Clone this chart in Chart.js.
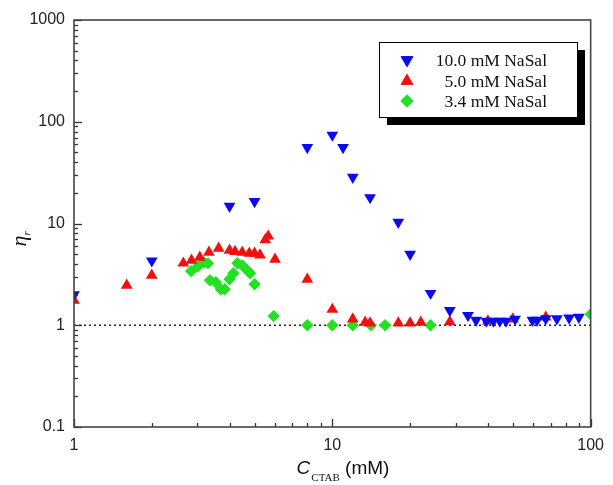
<!DOCTYPE html>
<html>
<head>
<meta charset="utf-8">
<script src="https://cdn.jsdelivr.net/npm/chart.js@4.4.1/dist/chart.umd.min.js"></script>
<style>
  html, body { margin: 0; padding: 0; background: #fff; }
  #wrap { width: 613px; height: 485px; }
</style>
</head>
<body>
<div id="wrap"><canvas id="chart" width="613" height="485"></canvas></div>
<script>
// series (C_CTAB in mM, eta_r)
const labels = ["10.0 mM NaSal", "5.0 mM NaSal", "3.4 mM NaSal"];

const blueX = [1, 2, 4, 5, 8, 10, 11, 12, 14, 18, 20, 24, 28.5, 33.5, 36, 39.5, 42, 44.5, 47, 51, 59.5, 62, 67, 74, 82.5, 90];
const blueY = [2.0, 4.3, 14.8, 16.5, 56, 74, 56, 28.5, 18, 10.3, 5.0, 2.06, 1.40, 1.25, 1.12, 1.1, 1.1, 1.1, 1.1, 1.15, 1.12, 1.12, 1.16, 1.16, 1.18, 1.2];

const redX = [1, 1.6, 2, 2.65, 2.85, 3.07, 3.33, 3.63, 4.0, 4.2, 4.48, 4.77, 5.0, 5.25, 5.5, 5.65, 6.0, 8.0, 10, 12, 13.4, 14, 18, 20, 22, 28.5, 40, 50, 67];
const redY = [1.76, 2.47, 3.1, 4.07, 4.35, 4.66, 5.2, 5.7, 5.45, 5.3, 5.2, 5.1, 5.1, 4.9, 6.9, 7.5, 4.45, 2.83, 1.43, 1.15, 1.07, 1.05, 1.05, 1.05, 1.07, 1.08, 1.1, 1.15, 1.2];

const greenX = [2.84, 3.02, 3.18, 3.3, 3.36, 3.54, 3.7, 3.83, 4.0, 4.14, 4.29, 4.48, 4.68, 4.8, 5.0, 5.93, 8, 10, 12, 14.1, 16, 24, 100];
const greenY = [3.4, 3.8, 4.16, 4.06, 2.77, 2.65, 2.26, 2.26, 2.83, 3.24, 4.07, 3.88, 3.47, 3.24, 2.53, 1.23, 1.0, 1.0, 1.0, 1.0, 1.0, 1.0, 1.28];

const refLineX = [1, 100];
const refLineY = [1, 1];

const xMajorTicks = [1, 10, 100];
const yMajorTicks = [0.1, 1, 10, 100, 1000];

function pts(xs, ys) {
    return xs.map((x, i) => ({ x: x, y: ys[i] }));
}

// log ticks: majors plus 2..9 minors
function logTicks(majors) {
    const out = [];
    for (let i = 0; i < majors.length; i++) {
        out.push({ value: majors[i], major: true });
        if (i < majors.length - 1) {
            for (let m = 2; m <= 9; m++) out.push({ value: majors[i] * m, major: false });
        }
    }
    return out;
}

const tickFont = { family: "'Liberation Sans', Arial, sans-serif", size: 16 };

// inward tick marks + frame
const framePlugin = {
    id: "frame",
    afterDatasetsDraw(chart) {
        const ctx = chart.ctx;
        const a = chart.chartArea;
        ctx.save();
        ctx.strokeStyle = "#333";
        ctx.lineWidth = 1.3;
        chart.scales.x.ticks.forEach(t => {
            const px = Math.round(chart.scales.x.getPixelForValue(t.value)) + 0.5;
            const len = t.major ? 8 : 4;
            ctx.beginPath();
            ctx.moveTo(px, a.bottom);
            ctx.lineTo(px, a.bottom - len);
            ctx.stroke();
        });
        chart.scales.y.ticks.forEach(t => {
            const py = Math.round(chart.scales.y.getPixelForValue(t.value)) + 0.5;
            const len = t.major ? 8 : 4;
            ctx.beginPath();
            ctx.moveTo(a.left, py);
            ctx.lineTo(a.left + len, py);
            ctx.stroke();
        });
        ctx.lineWidth = 1.6;
        ctx.strokeStyle = "#444";
        ctx.strokeRect(a.left, a.top, a.right - a.left, a.bottom - a.top);
        ctx.restore();
    }
};

// legend box with drop shadow, text right aligned
const legendPlugin = {
    id: "boxLegend",
    afterDraw(chart) {
        const ctx = chart.ctx;
        const bx = 379, by = 42, bw = 198, bh = 75;
        ctx.save();
        ctx.fillStyle = "#000";
        ctx.fillRect(bx + 8, by + 8, bw, bh);
        ctx.fillStyle = "#fff";
        ctx.fillRect(bx, by, bw, bh);
        ctx.strokeStyle = "#000";
        ctx.lineWidth = 1;
        ctx.strokeRect(bx + 0.5, by + 0.5, bw, bh);
        ctx.font = "17.5px 'Liberation Serif', 'Times New Roman', serif";
        ctx.textAlign = "right";
        ctx.textBaseline = "middle";
        const rows = [60, 81, 101];
        chart.data.datasets.forEach((ds, i) => {
            if (i >= labels.length) return;
            ctx.fillStyle = ds.backgroundColor;
            ctx.strokeStyle = ds.borderColor;
            Chart.helpers.drawPoint(ctx, {
                pointStyle: ds.pointStyle,
                rotation: ds.rotation || 0,
                radius: ds.pointRadius,
                borderWidth: 1
            }, 407, rows[i]);
            ctx.fillStyle = "#111";
            ctx.fillText(ds.label, 547, rows[i] + 1);
        });
        ctx.restore();
    }
};

// axis titles with italic symbols and subscripts
const titlePlugin = {
    id: "titles",
    afterDraw(chart) {
        const ctx = chart.ctx;
        ctx.save();
        ctx.fillStyle = "#111";
        ctx.textBaseline = "alphabetic";
        ctx.textAlign = "left";
        const fC = "italic 19px 'Liberation Sans', Arial, sans-serif";
        const fSub = "11px 'Liberation Serif', 'Times New Roman', serif";
        const fMain = "19px 'Liberation Sans', Arial, sans-serif";
        ctx.font = fC; const wC = ctx.measureText("C").width;
        ctx.font = fSub; const wS = ctx.measureText("CTAB").width;
        ctx.font = fMain; const wM = ctx.measureText(" (mM)").width;
        let x = 343 - (wC + wS + 1 + wM) / 2;
        const base = 474;
        ctx.font = fC; ctx.fillText("C", x, base); x += wC + 1;
        ctx.font = fSub; ctx.fillText("CTAB", x, base + 7); x += wS;
        ctx.font = fMain; ctx.fillText(" (mM)", x, base);

        ctx.translate(26, 238);
        ctx.rotate(-Math.PI / 2);
        ctx.textAlign = "left";
        ctx.font = "italic 22px 'Liberation Serif', 'Times New Roman', serif";
        const wE = ctx.measureText("\u03b7").width;
        ctx.fillText("\u03b7", -wE / 2 - 3, 0);
        ctx.font = "italic 11px 'Liberation Serif', 'Times New Roman', serif";
        ctx.fillText("r", wE / 2 - 3, 4);
        ctx.restore();
    }
};

const ctx = document.getElementById("chart").getContext("2d");

new Chart(ctx, {
    type: "scatter",
    data: {
        datasets: [
            {
                label: labels[0],
                data: pts(blueX, blueY),
                pointStyle: "triangle",
                rotation: 180,
                pointRadius: 6.8,
                backgroundColor: "#0a0af0",
                borderColor: "#0a0af0",
                borderWidth: 0
            },
            {
                label: labels[1],
                data: pts(redX, redY),
                pointStyle: "triangle",
                pointRadius: 6.8,
                backgroundColor: "#f01010",
                borderColor: "#f01010",
                borderWidth: 0
            },
            {
                label: labels[2],
                data: pts(greenX, greenY),
                pointStyle: "rectRot",
                pointRadius: 6.2,
                backgroundColor: "#22e022",
                borderColor: "#22e022",
                borderWidth: 0
            },
            {
                type: "line",
                label: "ref",
                data: pts(refLineX, refLineY),
                borderColor: "#222",
                borderWidth: 1.3,
                borderDash: [2, 3],
                pointRadius: 0,
                order: 10
            }
        ]
    },
    options: {
        responsive: false,
        animation: false,
        events: [],
        layout: { padding: { top: 20, right: 14, left: 0, bottom: 0 } },
        plugins: {
            legend: { display: false },
            tooltip: { enabled: false }
        },
        scales: {
            x: {
                type: "logarithmic",
                min: 1,
                max: 100,
                grid: { display: false, drawTicks: false },
                border: { display: false },
                afterBuildTicks(scale) { scale.ticks = logTicks(xMajorTicks); },
                afterFit(scale) { scale.height = 58; },
                ticks: {
                    autoSkip: false,
                    maxRotation: 0,
                    padding: 9,
                    color: "#222",
                    font: tickFont,
                    callback: (v) => xMajorTicks.includes(v) ? String(v) : ""
                }
            },
            y: {
                type: "logarithmic",
                min: 0.1,
                max: 1000,
                grid: { display: false, drawTicks: false },
                border: { display: false },
                afterBuildTicks(scale) { scale.ticks = logTicks(yMajorTicks); },
                afterFit(scale) { scale.width = 74; },
                ticks: {
                    autoSkip: false,
                    padding: 9,
                    color: "#222",
                    font: tickFont,
                    callback: (v) => yMajorTicks.includes(v) ? String(v) : ""
                }
            }
        }
    },
    plugins: [framePlugin, legendPlugin, titlePlugin]
});
</script>
</body>
</html>
